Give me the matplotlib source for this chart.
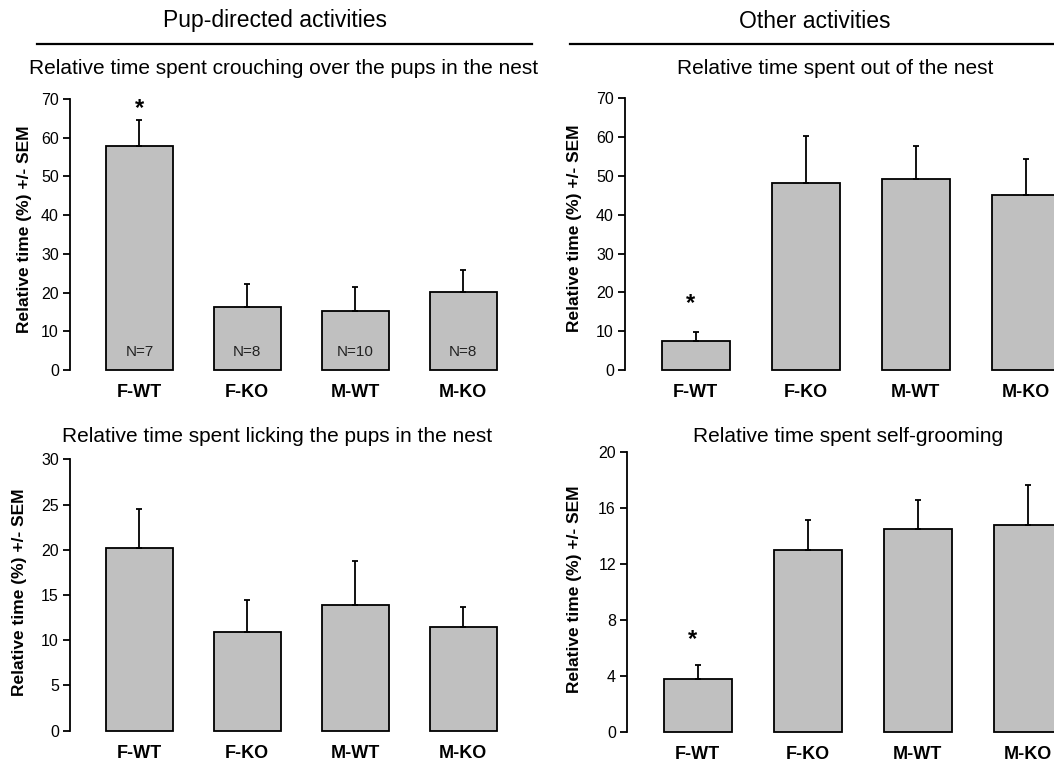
import matplotlib
matplotlib.use("Agg")
import matplotlib.pyplot as plt
from matplotlib.lines import Line2D

plt.rcParams['font.family'] = ['Liberation Sans', 'DejaVu Sans']

groups = ["F-WT", "F-KO", "M-WT", "M-KO"]

crouch_mean = [57.9, 16.4, 15.3, 20.2]
crouch_sem = [6.7, 5.9, 6.2, 5.6]
crouch_n = ["N=7", "N=8", "N=10", "N=8"]

out_mean = [7.5, 48.1, 49.3, 45.0]
out_sem = [2.2, 12.1, 8.5, 9.4]

lick_mean = [20.2, 10.9, 13.9, 11.5]
lick_sem = [4.3, 3.5, 4.9, 2.2]

groom_mean = [3.8, 13.0, 14.5, 14.8]
groom_sem = [1.0, 2.1, 2.05, 2.85]

GREY = "#c0c0c0"
W, H = 1054, 765

fig = plt.figure(figsize=(W / 100, H / 100), dpi=100)


def px_axes(x0, x1, ytop, ybot):
    return fig.add_axes([x0 / W, 1 - ybot / H, (x1 - x0) / W, (ybot - ytop) / H])


def bar_panel(ax, means, sems, ymax, yticks, star=None, star_y=None):
    x = range(len(groups))
    bars = ax.bar(x, means, width=0.62, color=GREY, edgecolor="black", linewidth=1.3)
    for b in bars:
        b.set_clip_on(False)
    ax.errorbar(x, means, yerr=[[0] * len(sems), sems], fmt="none", ecolor="black",
                elinewidth=1.3, capsize=2.5, capthick=1.3)
    ax.set_xlim(-0.643, 3.5)
    ax.set_ylim(0, ymax)
    ax.set_yticks(yticks)
    ax.set_xticks(list(x))
    ax.set_xticklabels(groups, fontsize=13, fontweight="bold")
    for s in ["top", "right", "bottom"]:
        ax.spines[s].set_visible(False)
    ax.spines["left"].set_linewidth(1.3)
    ax.tick_params(axis="x", length=0, pad=10)
    ax.tick_params(axis="y", direction="out", length=5, width=1.3, labelsize=11.5, pad=3)
    ax.set_ylabel("Relative time (%) +/- SEM", fontsize=12.5, fontweight="bold")
    if star is not None:
        ax.text(star, star_y, "*", ha="center", va="center", fontsize=17, fontweight="bold")


# pup-directed: crouching
ax1 = px_axes(70, 517, 99, 370)
bar_panel(ax1, crouch_mean, crouch_sem, 70, range(0, 71, 10), star=0, star_y=67.5)
for i, lab in enumerate(crouch_n):
    ax1.text(i, 4.7, lab, ha="center", va="center", fontsize=11, color="#222222")
ax1.yaxis.set_label_coords(-0.085, 0.52)

# other: out of the nest
ax2 = px_axes(625, 1081, 98.3, 370)
bar_panel(ax2, out_mean, out_sem, 70, range(0, 71, 10), star=-0.05, star_y=17.2)
ax2.yaxis.set_label_coords(-0.094, 0.52)

# pup-directed: licking
ax3 = px_axes(70, 517, 459.3, 730.7)
bar_panel(ax3, lick_mean, lick_sem, 30, range(0, 31, 5))
ax3.yaxis.set_label_coords(-0.096, 0.51)

# other: self-grooming
ax4 = px_axes(627, 1083, 451.7, 731.7)
bar_panel(ax4, groom_mean, groom_sem, 20, range(0, 21, 4), star=-0.05, star_y=6.6)
ax4.yaxis.set_label_coords(-0.099, 0.51)

# section headers with rules underneath
fig.text(275 / W, 1 - 21 / H, "Pup-directed activities", ha="center", va="center", fontsize=16.5)
fig.text(815 / W, 1 - 21 / H, "Other activities", ha="center", va="center", fontsize=16.5)
fig.add_artist(Line2D([37 / W, 532 / W], [1 - 43.5 / H] * 2, color="black", lw=1.6))
fig.add_artist(Line2D([570 / W, 1.0], [1 - 43.5 / H] * 2, color="black", lw=1.6))

# panel titles
fig.text(284 / W, 1 - 68 / H, "Relative time spent crouching over the pups in the nest",
         ha="center", va="center", fontsize=15)
fig.text(835 / W, 1 - 68 / H, "Relative time spent out of the nest",
         ha="center", va="center", fontsize=15)
fig.text(277 / W, 1 - 437 / H, "Relative time spent licking the pups in the nest",
         ha="center", va="center", fontsize=15)
fig.text(848 / W, 1 - 437 / H, "Relative time spent self-grooming",
         ha="center", va="center", fontsize=15)

fig.savefig("out.png", dpi=100)
